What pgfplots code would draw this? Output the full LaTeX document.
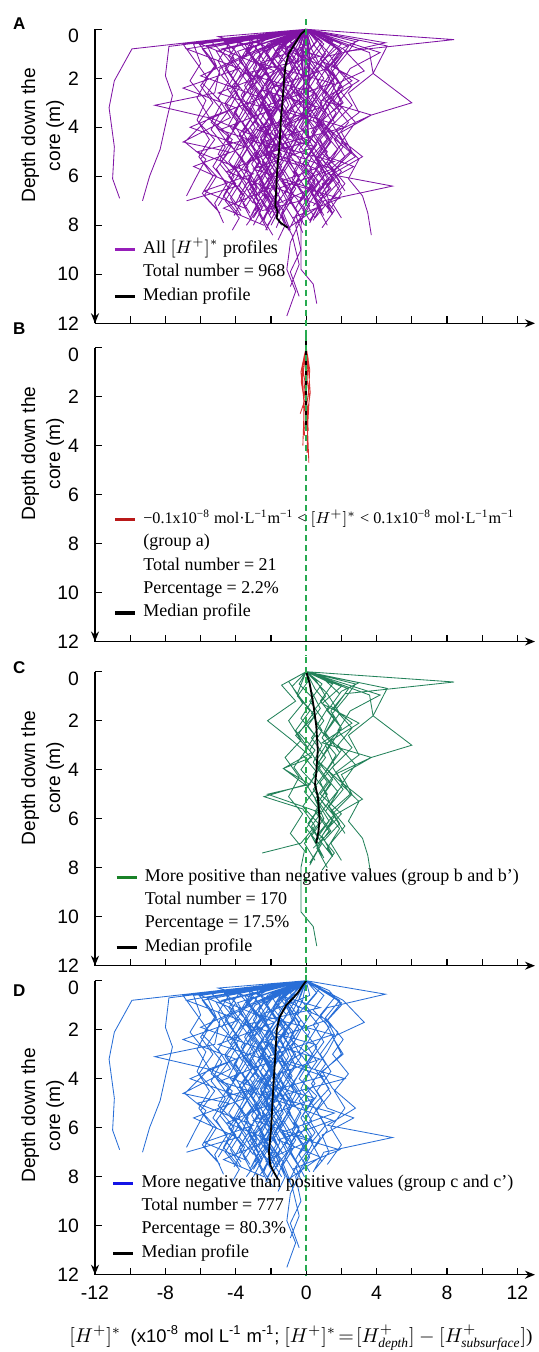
\documentclass[border=0pt]{standalone}
\usepackage{pgfplots}
\pgfplotsset{compat=1.18}
\usepackage{pgfplotstable}
\usetikzlibrary{arrows.meta}
\usepackage{fontspec}
\setmainfont{Liberation Serif}
\setsansfont{Liberation Sans}

\definecolor{cpurple}{RGB}{128,20,165}
\definecolor{cpurpleL}{RGB}{150,30,185}
\definecolor{cblue}{RGB}{40,110,215}
\definecolor{cblueL}{RGB}{20,20,230}
\definecolor{cgreen}{RGB}{35,130,90}
\definecolor{cgreenL}{RGB}{25,130,40}
\definecolor{cred}{RGB}{215,45,45}
\definecolor{credL}{RGB}{185,25,25}
\definecolor{cdash}{RGB}{40,170,80}

% group c and c' (more negative than positive)
\pgfplotstableread[row sep=\\]{
x d\\
0 0\\ -3.2 0.6\\ -3.8 1.3\\ -2.9 2.0\\ -3.5 2.7\\ -4.1 3.4\\ -3.3 4.1\\ -2.6 4.9\\ -3.4 5.6\\ -2.8 6.4\\ -3.6 7.1\\ -3.1 7.8\\ nan nan\\
0 0\\ -1.4 0.5\\ -1.9 1.1\\ -1.2 1.8\\ -2.0 2.5\\ -1.5 3.3\\ -0.9 4.0\\ -1.7 4.8\\ -2.3 5.5\\ -1.6 6.3\\ -1.1 7.0\\ -1.8 7.7\\ nan nan\\
0 0\\ -5.6 0.7\\ -5.1 1.5\\ -5.9 2.2\\ -4.8 3.0\\ -5.4 3.8\\ -4.2 4.5\\ -4.9 5.3\\ -4.1 6.0\\ -4.7 6.8\\ -3.9 7.5\\ nan nan\\
0 0\\ -0.6 0.4\\ -1.1 1.0\\ -0.4 1.7\\ -0.9 2.4\\ 0.3 3.1\\ -0.5 3.9\\ -1.2 4.6\\ -0.3 5.4\\ -0.8 6.1\\ 0.1 6.9\\ -0.6 7.6\\ -0.2 8.3\\ nan nan\\
0 0\\ -9.9 0.8\\ -10.9 2.1\\ -11.2 3.2\\ -10.9 4.8\\ -11.0 6.1\\ -10.6 6.9\\ nan nan\\
0 0\\ -7.8 0.7\\ -8.0 1.9\\ -7.6 2.7\\ -7.9 3.6\\ -8.3 4.9\\ -8.9 6.0\\ -9.3 7.0\\ nan nan\\
0 0\\ -2.5 0.8\\ -4.9 1.6\\ -5.2 2.6\\ -8.6 3.1\\ -5.6 3.6\\ -4.4 4.3\\ -5.0 5.1\\ -3.8 5.9\\ -4.5 6.6\\ -3.7 7.4\\ nan nan\\
0 0\\ 4.5 0.55\\ 1.2 1.1\\ 0.4 1.8\\ 1.0 2.5\\ 0.2 3.3\\ -0.4 4.0\\ 0.6 4.7\\ -0.2 5.5\\ 0.5 6.2\\ -0.3 7.0\\ nan nan\\
0 0\\ -2.2 0.6\\ -2.7 1.2\\ -2.1 1.9\\ -2.6 2.6\\ -1.9 3.4\\ -2.5 4.1\\ -3.0 4.8\\ -2.2 5.6\\ -2.7 6.3\\ -2.0 7.1\\ -2.4 7.8\\ -1.9 8.4\\ nan nan\\
0 0\\ -3.9 0.9\\ -3.3 1.6\\ -4.2 2.3\\ -3.6 3.0\\ -2.8 3.7\\ -3.7 4.4\\ -3.1 5.2\\ -3.9 5.9\\ -3.2 6.7\\ -2.6 7.4\\ nan nan\\
0 0\\ -1.0 0.7\\ -1.6 1.4\\ -0.7 2.1\\ -1.3 2.9\\ -2.0 3.6\\ -1.4 4.4\\ -0.8 5.1\\ -1.5 5.9\\ -2.1 6.6\\ -1.3 7.4\\ -1.7 8.1\\ nan nan\\
0 0\\ 1.9 0.8\\ 1.1 1.5\\ 1.6 2.2\\ 0.8 3.0\\ 1.4 3.7\\ 0.6 4.5\\ 1.2 5.2\\ 2.7 5.6\\ 0.9 6.3\\ 1.3 7.0\\ 0.5 7.7\\ nan nan\\
0 0\\ -6.4 0.6\\ -6.0 1.4\\ -6.6 2.1\\ -5.7 2.9\\ -6.2 3.7\\ -5.5 4.5\\ -6.1 5.2\\ -5.3 6.0\\ -5.9 6.7\\ -5.0 7.4\\ nan nan\\
0 0\\ -4.6 0.5\\ -4.1 1.2\\ -4.8 1.9\\ -3.9 2.6\\ -4.4 3.3\\ -5.1 4.0\\ -4.3 4.8\\ -4.9 5.5\\ -4.0 6.3\\ -4.6 7.0\\ -3.8 7.7\\ -4.2 8.2\\ nan nan\\
0 0\\ -2.9 0.7\\ -2.3 1.4\\ -3.1 2.1\\ -2.4 2.8\\ -3.0 3.6\\ -2.2 4.3\\ -2.9 5.1\\ -2.3 5.8\\ -3.2 6.5\\ -2.5 7.3\\ -3.0 8.0\\ nan nan\\
0 0\\ -0.3 0.6\\ -0.8 1.3\\ -0.2 2.0\\ 0.6 2.7\\ -0.1 3.5\\ 0.5 4.2\\ -0.4 4.9\\ 0.3 5.7\\ -0.5 6.4\\ 0.2 7.2\\ -0.4 7.9\\ -0.9 8.7\\ -1.1 9.8\\ -0.6 10.7\\ -1.1 11.7\\ nan nan\\
0 0\\ -1.8 0.5\\ -2.3 1.0\\ -1.6 1.7\\ -2.2 2.4\\ -1.7 3.1\\ -2.4 3.9\\ -1.8 4.6\\ -1.3 5.4\\ -2.0 6.1\\ -1.5 6.9\\ -2.1 7.6\\ nan nan\\
0 0\\ -3.5 0.6\\ -2.9 1.3\\ -2.1 2.0\\ -2.8 2.7\\ -2.2 3.5\\ -1.6 4.2\\ -2.3 5.0\\ -1.7 5.7\\ -2.5 6.5\\ -1.9 7.2\\ -2.6 7.9\\ nan nan\\
0 0\\ 2.1 0.8\\ 3.3 1.7\\ 1.5 2.3\\ 2.1 3.0\\ 0.9 3.7\\ 1.5 4.4\\ 2.8 5.2\\ 1.2 5.9\\ 4.9 6.4\\ 1.0 7.0\\ 0.4 7.8\\ nan nan\\
0 0\\ -5.1 0.9\\ -4.5 1.6\\ -3.8 2.4\\ -4.6 3.1\\ -3.9 3.8\\ -4.5 4.6\\ -3.6 5.3\\ -4.3 6.1\\ -3.5 6.8\\ -4.1 7.6\\ nan nan\\
0 0\\ -1.2 0.9\\ -0.8 1.6\\ -1.5 2.3\\ -1.0 3.1\\ -1.6 3.8\\ -1.1 4.5\\ -1.8 5.3\\ -1.2 6.0\\ -0.7 6.8\\ -1.3 7.5\\ -0.9 8.2\\ nan nan\\
0 0\\ -0.9 0.5\\ -0.4 1.2\\ -1.1 1.9\\ -1.7 2.6\\ -1.0 3.4\\ -1.5 4.1\\ -2.0 4.9\\ -1.4 5.6\\ -1.9 6.4\\ -1.3 7.1\\ nan nan\\
0 0\\ -2.6 0.4\\ -3.1 1.1\\ -3.7 1.8\\ -3.0 2.5\\ -3.6 3.2\\ -2.9 4.0\\ -3.5 4.7\\ -2.8 5.5\\ -3.3 6.2\\ -2.7 7.0\\ -3.2 7.7\\ nan nan\\
0 0\\ -7.0 0.6\\ -6.3 1.3\\ -5.6 2.0\\ -6.2 2.8\\ -5.5 3.6\\ -6.9 4.6\\ -5.7 5.3\\ -6.3 6.1\\ -6.8 6.8\\ nan nan\\
0 0\\ 1.0 0.6\\ 0.4 1.2\\ 1.3 1.9\\ 0.5 2.7\\ 1.1 3.4\\ 0.3 4.2\\ 0.9 4.9\\ 0.2 5.7\\ 0.8 6.4\\ 0.1 7.2\\ -0.6 8.0\\ -0.3 9.0\\ -0.9 9.9\\ -0.4 10.9\\ nan nan\\
0 0\\ -4.2 0.7\\ -3.6 1.4\\ -3.0 2.2\\ -3.7 2.9\\ -3.1 3.6\\ -3.8 4.3\\ -3.2 5.1\\ -2.5 5.8\\ -3.3 6.6\\ -2.7 7.3\\ -3.4 8.0\\ nan nan\\
0 0\\ -1.6 0.8\\ -2.1 1.5\\ -2.7 2.2\\ -2.0 3.0\\ -2.6 3.7\\ -2.0 4.5\\ -2.6 5.2\\ -1.9 6.0\\ -2.4 6.7\\ -1.8 7.5\\ -2.3 8.2\\ nan nan\\
0 0\\ -0.4 0.7\\ 0.3 1.3\\ -0.3 2.0\\ -0.9 2.8\\ -0.2 3.5\\ -0.8 4.3\\ -0.1 5.0\\ -0.7 5.8\\ 0.0 6.5\\ -0.6 7.3\\ -0.1 8.0\\ nan nan\\
0 0\\ -3.0 0.5\\ -3.6 1.2\\ -4.3 1.9\\ -3.5 2.6\\ -4.0 3.4\\ -3.4 4.1\\ -4.1 4.9\\ -3.3 5.6\\ -3.8 6.4\\ -3.0 7.1\\ nan nan\\
0 0\\ -2.0 0.6\\ -1.4 1.3\\ -2.1 2.0\\ -1.5 2.8\\ -2.2 3.5\\ -1.7 4.3\\ -2.4 5.0\\ -1.8 5.8\\ -2.3 6.5\\ -1.6 7.3\\ -2.2 8.0\\ nan nan\\
0 0\\ 1.6 0.7\\ 0.8 1.4\\ 1.8 2.1\\ 1.2 2.9\\ 0.5 3.6\\ 1.3 4.4\\ 0.4 5.1\\ 1.1 5.9\\ 0.3 6.6\\ 0.9 7.4\\ nan nan\\
0 0\\ -5.9 0.8\\ -5.2 1.5\\ -6.0 2.3\\ -5.3 3.0\\ -6.1 3.8\\ -5.2 4.5\\ -6.0 5.3\\ -5.1 6.0\\ -5.8 6.8\\ -4.9 7.5\\ nan nan\\
0 0\\ -1.1 0.4\\ -1.7 0.9\\ -2.4 1.6\\ -1.8 2.3\\ -2.5 3.0\\ -1.9 3.8\\ -2.6 4.5\\ -2.0 5.3\\ -2.7 6.0\\ -2.1 6.8\\ -2.7 7.5\\ -2.2 8.2\\ nan nan\\
0 0\\ -0.2 0.8\\ -0.7 1.5\\ -1.3 2.3\\ -0.6 3.0\\ -1.2 3.8\\ -0.5 4.5\\ -1.1 5.3\\ -0.4 6.0\\ -1.0 6.8\\ -0.5 7.5\\ -1.0 8.2\\ nan nan\\
0 0\\ -4.4 0.6\\ -5.0 1.3\\ -4.4 2.1\\ -5.0 2.8\\ -4.3 3.6\\ -7.0 4.6\\ -4.4 5.0\\ -5.1 5.7\\ -4.4 6.5\\ -5.0 7.2\\ nan nan\\
0 0\\ 0.6 0.5\\ -0.1 1.1\\ 0.7 1.8\\ 0.0 2.6\\ 0.6 3.3\\ -0.2 4.1\\ 0.4 4.8\\ -0.3 5.6\\ 0.3 6.3\\ -0.4 7.1\\ 0.2 7.8\\ nan nan\\
0 0\\ -3.4 0.8\\ -2.8 1.5\\ -3.5 2.3\\ -2.9 3.0\\ -3.6 3.8\\ -3.0 4.5\\ -3.7 5.3\\ -3.1 6.0\\ -3.8 6.8\\ -3.2 7.5\\ nan nan\\
0 0\\ -2.4 0.9\\ -3.0 1.6\\ -2.4 2.4\\ -3.1 3.1\\ -2.5 3.9\\ -3.2 4.6\\ -2.6 5.4\\ -3.3 6.1\\ -2.6 6.9\\ -3.1 7.6\\ nan nan\\
0 0\\ -1.3 0.6\\ -1.9 1.3\\ -1.2 2.0\\ -1.8 2.7\\ -1.2 3.5\\ -1.8 4.2\\ -1.1 5.0\\ -1.7 5.7\\ -1.1 6.5\\ -1.7 7.2\\ -1.2 8.0\\ -1.6 8.6\\ nan nan\\
0 0\\ 2.0 0.9\\ 1.2 1.6\\ 2.1 2.4\\ 1.5 3.0\\ 2.4 3.8\\ 1.6 4.5\\ 2.2 5.2\\ 1.4 6.0\\ 2.0 6.7\\ 1.2 7.5\\ nan nan\\
0 0\\ -6.2 0.5\\ -5.5 1.1\\ -4.9 1.8\\ -5.6 2.6\\ -4.8 3.3\\ -5.4 4.1\\ -4.6 4.8\\ -5.3 5.6\\ -4.5 6.3\\ -5.2 7.1\\ -4.7 7.9\\ nan nan\\
0 0\\ -3.8 0.5\\ -4.4 1.1\\ -3.7 1.8\\ -4.3 2.6\\ -3.6 3.3\\ -4.2 4.1\\ -3.5 4.8\\ -4.1 5.6\\ -3.4 6.3\\ -4.0 7.1\\ nan nan\\
0 0\\ -0.7 0.9\\ -1.3 1.6\\ -0.6 2.4\\ -1.4 3.1\\ -0.8 3.9\\ -1.5 4.6\\ -0.9 5.4\\ -1.5 6.1\\ -0.8 6.9\\ -1.4 7.6\\ -0.8 8.4\\ -0.4 9.6\\ -0.9 10.5\\ nan nan\\
0 0\\ -2.8 0.4\\ -2.2 1.0\\ -1.6 1.7\\ -2.3 2.4\\ -1.7 3.2\\ -2.4 3.9\\ -1.8 4.7\\ -2.5 5.4\\ -1.9 6.2\\ -2.6 6.9\\ -2.0 7.7\\ nan nan\\
0 0\\ 1.3 0.4\\ 2.0 1.0\\ 1.1 1.7\\ 2.0 3.0\\ 0.8 3.8\\ 1.4 4.6\\ 0.6 5.3\\ 1.2 6.1\\ 0.5 6.8\\ nan nan\\
0 0\\ -3.0 0.9\\ -6.0 1.9\\ -2.5 2.8\\ -5.5 3.6\\ -2.8 4.4\\ -6.2 5.0\\ -3.0 5.9\\ -5.8 6.6\\ -3.5 7.3\\ nan nan\\
0 0\\ -1.5 0.7\\ 1.2 1.6\\ -2.4 2.5\\ 0.8 3.2\\ -2.8 4.1\\ 0.5 4.8\\ -3.0 5.7\\ 0.3 6.5\\ -2.2 7.3\\ nan nan\\
0 0\\ -4.8 0.8\\ -1.8 1.7\\ -5.0 2.6\\ -2.0 3.3\\ -4.9 4.1\\ -1.6 4.9\\ -4.5 5.8\\ -2.1 6.5\\ -4.7 7.3\\ -2.4 8.0\\ nan nan\\
0 0\\ -2.0 0.5\\ 0.8 1.1\\ -3.5 1.8\\ 0.5 2.6\\ -1.0 3.3\\ 2.2 4.0\\ -2.0 4.8\\ 1.5 5.7\\ -1.6 6.5\\ 0.8 7.2\\ -1.0 8.1\\ nan nan\\
0 0\\ -6.8 0.8\\ -3.8 1.6\\ -7.0 2.4\\ -4.0 3.2\\ -6.6 4.0\\ -3.5 4.8\\ -6.4 5.6\\ -3.9 6.4\\ -6.8 7.0\\ nan nan\\
0 0\\ 0.2 0.6\\ -2.6 1.4\\ 1.5 2.2\\ -2.2 3.1\\ 1.0 3.9\\ -2.5 4.6\\ 1.6 5.4\\ -1.4 6.2\\ 1.9 6.9\\ -0.8 7.7\\ nan nan\\
0 0\\ -2.0 0.3\\ -3.4 0.9\\ -2.6 1.5\\ -3.2 2.2\\ -2.5 2.9\\ -1.9 3.7\\ -2.6 4.4\\ -2.0 5.2\\ -2.8 5.9\\ -2.2 6.7\\ -2.9 7.4\\ nan nan\\
0 0\\ -1.2 0.3\\ -2.5 0.8\\ -1.9 1.4\\ -1.2 2.1\\ -1.9 2.9\\ -1.3 3.6\\ -2.1 4.3\\ -1.4 5.1\\ -2.1 5.8\\ -1.5 6.6\\ -2.0 7.3\\ -1.4 8.0\\ nan nan\\
0 0\\ -4.0 0.4\\ -3.2 1.0\\ -2.4 1.6\\ -3.0 2.3\\ -2.3 3.0\\ -2.9 3.8\\ -2.1 4.5\\ -2.8 5.3\\ -2.1 6.0\\ -2.7 6.8\\ -2.0 7.5\\ nan nan\\
0 0\\ -0.8 0.3\\ -1.5 0.7\\ -0.9 1.3\\ -0.4 2.0\\ -1.1 2.7\\ -0.6 3.5\\ -1.3 4.2\\ -0.7 5.0\\ -1.3 5.7\\ -0.6 6.5\\ -1.2 7.2\\ -0.6 7.9\\ nan nan\\
0 0\\ -5.4 0.5\\ -4.7 1.0\\ -3.9 1.7\\ -4.5 2.4\\ -3.8 3.1\\ -4.4 3.9\\ -3.7 4.6\\ -4.4 5.4\\ -3.6 6.1\\ -4.3 6.9\\ -3.7 7.6\\ nan nan\\
0 0\\ -2.3 0.9\\ -1.7 1.6\\ -2.3 2.3\\ -1.6 3.1\\ -2.3 3.8\\ -1.6 4.6\\ -2.2 5.3\\ -1.5 6.1\\ -2.2 6.8\\ -1.6 7.6\\ nan nan\\
0 0\\ -3.3 0.4\\ -2.6 1.0\\ -3.3 1.7\\ -2.5 2.4\\ -3.2 3.2\\ -2.4 3.9\\ -3.1 4.7\\ -2.4 5.4\\ -3.0 6.2\\ -2.3 6.9\\ -3.0 7.7\\ nan nan\\
0 0\\ -0.5 0.5\\ -1.2 0.8\\ -0.6 1.5\\ -1.3 2.2\\ -0.7 3.0\\ -1.4 3.7\\ -0.7 4.5\\ -1.3 5.2\\ -0.6 6.0\\ -1.2 6.7\\ -0.5 7.5\\ nan nan\\
0 0\\ -1.7 0.9\\ -1.1 1.4\\ -1.8 2.1\\ -1.2 2.8\\ -1.9 3.6\\ -1.3 4.3\\ -2.0 5.1\\ -1.4 5.8\\ -2.1 6.6\\ -1.5 7.3\\ -2.0 8.0\\ nan nan\\
0 0\\ -4.8 0.4\\ -4.0 0.9\\ -4.6 1.6\\ -3.9 2.3\\ -4.6 3.0\\ -3.8 3.8\\ -4.5 4.5\\ -3.7 5.3\\ -4.4 6.0\\ -3.6 6.8\\ nan nan\\
0 0\\ -2.7 0.5\\ -2.1 1.1\\ -2.8 1.8\\ -2.1 2.5\\ -2.7 3.3\\ -2.0 4.0\\ -2.7 4.8\\ -2.0 5.5\\ -2.6 6.3\\ -1.9 7.0\\ -2.5 7.8\\ nan nan\\
0 0\\ -3.6 0.3\\ -2.0 0.8\\ -2.6 1.4\\ -1.9 2.2\\ -2.5 2.9\\ -1.8 3.7\\ -2.4 4.4\\ -1.8 5.2\\ -2.4 5.9\\ -1.7 6.7\\ -2.3 7.4\\ nan nan\\
0 0\\ -1.0 0.5\\ -1.8 1.2\\ -2.5 1.9\\ -3.2 2.5\\ -2.5 3.3\\ -3.2 4.0\\ -2.5 4.8\\ -3.1 5.5\\ -2.4 6.3\\ -3.0 7.0\\ -2.4 7.8\\ nan nan\\
0 0\\ -6.0 0.6\\ -4.3 1.1\\ -3.5 1.8\\ -4.1 2.5\\ -3.4 3.3\\ -4.0 4.0\\ -3.3 4.8\\ -3.9 5.5\\ -3.2 6.3\\ -3.8 7.0\\ nan nan\\
0 0\\ -0.4 0.4\\ -0.9 0.9\\ -1.6 1.5\\ -1.0 2.2\\ -1.6 3.0\\ -0.9 3.7\\ -1.5 4.5\\ -0.9 5.2\\ -1.5 6.0\\ -0.8 6.7\\ -1.4 7.5\\ -1.0 8.2\\ nan nan\\
0 0\\ -2.9 1.0\\ -3.5 1.7\\ -2.8 2.4\\ -3.4 3.2\\ -2.7 3.9\\ -3.4 4.7\\ -2.7 5.4\\ -3.3 6.2\\ -2.6 6.9\\ -3.2 7.7\\ nan nan\\
0 0\\ -1.5 0.4\\ -0.9 1.0\\ -0.3 1.6\\ -0.9 2.3\\ -0.3 3.1\\ -1.0 3.8\\ -0.3 4.6\\ -1.0 5.3\\ -0.4 6.1\\ -1.0 6.8\\ -0.4 7.6\\ nan nan\\
0 0\\ -5.0 0.3\\ -3.0 0.7\\ -3.7 1.3\\ -3.1 2.0\\ -3.7 2.7\\ -3.0 3.5\\ -3.6 4.2\\ -2.9 5.0\\ -3.5 5.7\\ -2.8 6.5\\ -3.4 7.2\\ nan nan\\
0 0\\ 0.8 0.3\\ 0.2 0.8\\ -0.5 1.4\\ 0.2 2.1\\ -0.4 2.9\\ 0.3 3.6\\ -0.3 4.4\\ 0.4 5.1\\ -0.2 5.9\\ 0.4 6.6\\ -0.2 7.4\\ nan nan\\
}\tabD

% group b and b' (more positive than negative)
\pgfplotstableread[row sep=\\]{
x d\\
0 0\\ 8.4 0.42\\ 2.2 0.9\\ 1.4 1.6\\ 2.0 2.3\\ 1.1 3.0\\ 1.6 3.8\\ 0.8 4.5\\ 1.3 5.3\\ 0.6 6.0\\ nan nan\\
0 0\\ 4.6 0.68\\ 3.8 1.8\\ 6.0 3.0\\ 3.7 3.5\\ 2.0 4.2\\ 2.6 5.0\\ 1.5 5.8\\ 2.2 6.6\\ nan nan\\
0 0\\ 4.2 0.95\\ 2.5 1.6\\ 1.8 2.4\\ 2.6 3.1\\ 1.5 3.9\\ 2.1 4.6\\ 1.2 5.4\\ 1.9 6.2\\ 1.0 6.9\\ nan nan\\
0 0\\ 3.6 0.95\\ 3.8 1.8\\ 2.4 2.6\\ 3.0 3.4\\ 1.7 4.1\\ 2.5 5.0\\ 1.4 5.7\\ nan nan\\
0 0\\ -1.4 0.55\\ -0.6 1.2\\ -2.2 2.0\\ -0.8 2.8\\ 0.3 3.5\\ -1.3 3.95\\ 0.2 4.6\\ -2.2 5.0\\ 0.6 5.7\\ 1.4 6.5\\ 0.4 7.2\\ nan nan\\
0 0\\ 0.6 0.4\\ 1.1 1.0\\ 0.3 1.7\\ 0.9 2.4\\ 0.2 3.2\\ 0.8 3.9\\ 0.1 4.7\\ 0.7 5.4\\ 1.3 6.1\\ 0.5 6.9\\ 1.0 7.6\\ nan nan\\
0 0\\ 1.5 0.5\\ 0.8 1.2\\ 1.6 1.9\\ 0.9 2.7\\ 1.7 3.4\\ 1.0 4.2\\ 1.8 4.9\\ 1.1 5.7\\ 1.9 6.4\\ 1.2 7.2\\ 1.5 7.55\\ nan nan\\
0 0\\ 2.4 0.7\\ 1.6 1.5\\ 2.6 2.3\\ 1.8 3.0\\ 2.8 3.8\\ 2.0 4.6\\ 3.0 5.3\\ 2.4 6.1\\ 3.2 6.8\\ 3.5 7.5\\ 3.7 8.4\\ nan nan\\
0 0\\ -0.8 0.6\\ -0.2 1.3\\ -1.0 2.0\\ -0.3 2.8\\ -1.2 3.5\\ -0.4 4.3\\ -1.0 5.1\\ -0.2 5.8\\ -0.9 6.6\\ -0.1 7.3\\ -0.3 8.0\\ -0.3 9.8\\ 0.4 10.4\\ 0.6 11.2\\ nan nan\\
0 0\\ 0.3 0.8\\ 0.8 1.5\\ 0.1 2.2\\ 0.9 3.0\\ 0.4 3.7\\ 1.2 4.5\\ 0.5 5.2\\ 1.0 6.0\\ 0.3 6.7\\ 0.9 7.5\\ nan nan\\
0 0\\ 1.0 0.3\\ 1.9 0.9\\ 1.2 1.6\\ 2.0 2.3\\ 1.3 3.1\\ 0.6 3.8\\ 1.4 4.6\\ 0.7 5.3\\ 1.5 6.1\\ 0.8 6.8\\ nan nan\\
0 0\\ -0.4 0.5\\ 0.4 1.1\\ -0.3 1.9\\ 0.5 2.6\\ -0.2 3.4\\ 0.6 4.1\\ -0.1 4.9\\ 0.7 5.6\\ 0.0 6.4\\ 0.8 7.1\\ 0.2 7.9\\ nan nan\\
0 0\\ 2.0 0.6\\ 0.9 1.3\\ 3.0 2.1\\ 1.2 2.9\\ 0.6 3.6\\ 1.8 4.4\\ 3.2 5.2\\ 1.5 5.9\\ 0.7 6.6\\ 1.6 7.4\\ 0.9 8.1\\ nan nan\\
0 0\\ -0.5 0.9\\ 0.2 1.6\\ -0.6 2.4\\ 0.1 3.1\\ -0.7 3.9\\ 0.0 4.6\\ -2.4 5.1\\ -0.2 5.6\\ 0.5 6.3\\ -0.3 7.0\\ -2.5 7.4\\ nan nan\\
0 0\\ 1.2 0.9\\ 1.9 1.7\\ 1.1 2.5\\ 1.9 3.3\\ 1.2 4.0\\ 2.1 4.8\\ 1.3 5.5\\ 2.2 6.3\\ 1.4 7.0\\ 2.0 7.7\\ nan nan\\
0 0\\ 0.9 0.5\\ 0.2 1.2\\ 1.0 2.0\\ 0.3 2.7\\ 1.1 3.5\\ 0.4 4.2\\ 1.2 5.0\\ 0.5 5.7\\ 1.3 6.5\\ 0.6 7.2\\ 1.2 8.0\\ nan nan\\
0 0\\ 3.0 0.45\\ 2.0 0.8\\ 1.4 1.4\\ 2.6 2.1\\ 0.9 2.9\\ 3.7 3.5\\ 1.6 4.2\\ 0.8 5.0\\ 2.0 5.8\\ 1.1 6.5\\ nan nan\\
0 0\\ 0.1 0.4\\ -0.5 1.0\\ 0.4 1.7\\ -0.4 2.5\\ 0.5 3.2\\ -0.3 4.0\\ 0.6 4.7\\ -0.2 5.5\\ 0.7 6.2\\ -0.1 7.0\\ 0.5 7.7\\ nan nan\\
0 0\\ 0.5 0.7\\ 1.3 1.4\\ 0.6 2.2\\ 1.4 2.9\\ 0.7 3.7\\ 1.5 4.4\\ 0.8 5.2\\ 1.6 5.9\\ 0.9 6.7\\ 1.5 7.5\\ nan nan\\
0 0\\ 2.8 0.5\\ 2.3 1.0\\ 1.5 1.7\\ 1.0 2.5\\ 2.0 3.2\\ 1.2 4.0\\ 0.4 4.8\\ 1.1 5.5\\ 0.3 6.3\\ 0.9 7.0\\ 0.2 7.8\\ nan nan\\
0 0\\ -1.0 0.4\\ -0.3 1.1\\ 0.5 1.8\\ -0.6 2.6\\ 0.3 3.3\\ -1.3 3.95\\ 0.1 4.7\\ 0.8 5.5\\ 0.1 6.2\\ 0.9 7.0\\ 1.5 7.55\\ nan nan\\
}\tabC

% group a (near zero)
\pgfplotstableread[row sep=\\]{
x d\\
0 0\\ -0.15 0.5\\ -0.28 1.4\\ -0.1 2.2\\ -0.34 2.7\\ nan nan\\
0 0\\ 0.1 0.6\\ 0.23 1.85\\ 0.05 2.8\\ 0.15 4.7\\ nan nan\\
0 0\\ -0.05 0.4\\ -0.2 1.2\\ -0.12 2.5\\ -0.19 4.0\\ nan nan\\
0 0\\ 0.05 0.7\\ -0.1 1.6\\ 0.08 2.5\\ -0.05 3.3\\ nan nan\\
0 0\\ -0.2 0.8\\ -0.05 1.5\\ -0.15 2.3\\ -0.1 3.6\\ nan nan\\
0 0\\ 0.12 0.5\\ 0.05 1.3\\ 0.18 2.0\\ 0.1 3.0\\ 0.05 4.3\\ nan nan\\
0 0\\ -0.1 0.3\\ -0.3 1.0\\ -0.18 1.8\\ -0.08 2.6\\ nan nan\\
0 0\\ 0.2 0.9\\ 0.15 1.7\\ 0.02 2.4\\ 0.12 3.4\\ nan nan\\
}\tabB

\pgfplotsset{
  panel/.style={
    scale only axis, width=220pt, height=147pt,
    xmin=-12, xmax=13, ymin=0, ymax=12, y dir=reverse,
    axis x line=bottom, axis y line=left, clip=false,
    xtick={-12,-8,...,12}, minor xtick={-10,-6,...,10},
    ytick={2,4,...,12}, extra y ticks={0},
    extra y tick style={yticklabel style={yshift=-3.5pt}},
    tick align=inside, major tick length=3.5pt, minor tick length=3.5pt,
    tick style={black, line width=0.6pt},
    axis line style={black, line width=0.7pt, -{Stealth[length=5pt,width=4pt]}},
    /pgf/number format/assume math mode=true,
    ticklabel style={font=\sffamily\fontsize{9.7}{11}\selectfont},
    yticklabel style={xshift=-4.5pt},
    xticklabel style={yshift=-2pt},
    legend image code/.code={\draw[##1] (0pt,0pt) -- (10pt,0pt);},
    legend cell align=left,
    legend style={draw=none, fill=none, inner sep=0pt, outer sep=0pt,
      row sep=2.9pt, column sep=3.3pt,
      font=\fontsize{9}{10.8}\selectfont,
      nodes={inner sep=0pt, text height=6.3pt, text depth=2.5pt}},
  },
  prof/.style={line width=0.42pt, unbounded coords=jump, forget plot},
  med/.style={black, line width=0.9pt, forget plot},
  dashz/.style={cdash, line width=1pt, dash pattern=on 3pt off 2pt, forget plot},
}
\tikzset{
  letter/.style={font=\sffamily\bfseries\fontsize{8.5}{10}\selectfont},
  ylab/.style={rotate=90, align=center, font=\sffamily\fontsize{9.6}{12.5}\selectfont},
}

\begin{document}
\begin{tikzpicture}
\useasboundingbox (-47.5pt,14.65pt) rectangle (221.5pt,-661.35pt);

% ---------- A ----------
\begin{axis}[panel, at={(0pt,0pt)}, anchor=north west, xticklabels={},
  legend style={at={(axis cs:-10.96,8.64)}, anchor=north west}]
  \addplot[cpurple, prof] table[x=x,y=d]{\tabD};
  \addplot[cpurple, prof] table[x=x,y=d]{\tabC};
  \addplot[cpurple, prof] table[x=x,y=d]{\tabB};
  \addplot[med] coordinates {(0,0)(-0.3,0.2)(-0.57,0.5)(-1.0,1.0)(-1.18,1.5)(-1.25,2)(-1.3,2.5)(-1.35,3)(-1.42,3.5)(-1.46,4)(-1.5,4.5)(-1.55,5)(-1.62,5.5)(-1.67,6)(-1.7,6.5)(-1.74,7)(-1.76,7.2)(-1.62,7.45)(-1.68,7.7)(-1.45,7.9)(-1.05,8.1)};
  \addplot[dashz] coordinates {(0,-0.4)(0,12.5)};
  \addlegendimage{cpurpleL, line width=1.6pt}
  \addlegendentry{All $[H^{+}]^{*}$ profiles}
  \addlegendimage{empty legend}
  \addlegendentry{Total number = 968}
  \addlegendimage{black, line width=1.6pt}
  \addlegendentry{Median profile}
  \node[letter] at (axis cs:-16.3,-0.22) {A};
  \node[ylab] at (axis cs:-14.98,4.33) {Depth down the\\core (m)};
\end{axis}

% ---------- B ----------
\begin{axis}[panel, at={(0pt,-159.1pt)}, anchor=north west, xticklabels={},
  legend style={at={(axis cs:-10.95,6.66)}, anchor=north west}]
  \addplot[cred, prof] table[x=x,y=d]{\tabB};
  \addplot[med] coordinates {(0,-0.3)(0,3.3)};
  \addplot[dashz] coordinates {(0,-0.5)(0,12.6)};
  \addlegendimage{credL, line width=1.6pt}
  \addlegendentry{{\fontsize{8.1}{10}\selectfont −0.1x10\textsuperscript{−8} mol·L\textsuperscript{−1}m\textsuperscript{−1} < $[H^{+}]^{*}$ < 0.1x10\textsuperscript{−8} mol·L\textsuperscript{−1}m\textsuperscript{−1}}}
  \addlegendimage{empty legend}
  \addlegendentry{(group a)}
  \addlegendimage{empty legend}
  \addlegendentry{Total number = 21}
  \addlegendimage{empty legend}
  \addlegendentry{Percentage = 2.2\%}
  \addlegendimage{black, line width=1.6pt}
  \addlegendentry{Median profile}
  \node[letter] at (axis cs:-16.3,-0.75) {B};
  \node[ylab] at (axis cs:-14.98,4.33) {Depth down the\\core (m)};
\end{axis}

% ---------- C ----------
\begin{axis}[panel, at={(0pt,-321.2pt)}, anchor=north west, xticklabels={},
  legend style={at={(axis cs:-10.86,8.03)}, anchor=north west}]
  \addplot[cgreen, prof] table[x=x,y=d]{\tabC};
  \addplot[med] coordinates {(0,0)(0.19,0.45)(0.3,0.9)(0.42,1.4)(0.57,2.2)(0.66,3.2)(0.6,3.8)(0.57,4.15)(0.5,4.6)(0.66,5.1)(0.76,6.0)(0.7,6.5)(0.57,7.0)};
  \addplot[dashz] coordinates {(0,-0.6)(0,12.3)};
  \addlegendimage{cgreenL, line width=1.6pt}
  \addlegendentry{More positive than negative values (group b and b')}
  \addlegendimage{empty legend}
  \addlegendentry{Total number = 170}
  \addlegendimage{empty legend}
  \addlegendentry{Percentage = 17.5\%}
  \addlegendimage{black, line width=1.6pt}
  \addlegendentry{Median profile}
  \node[letter] at (axis cs:-16.3,-0.17) {C};
  \node[ylab] at (axis cs:-14.98,4.33) {Depth down the\\core (m)};
\end{axis}

% ---------- D ----------
\begin{axis}[panel, at={(0pt,-475.7pt)}, anchor=north west,
  legend style={at={(axis cs:-11.05,7.91)}, anchor=north west}]
  \addplot[cblue, prof] table[x=x,y=d]{\tabD};
  \addplot[med] coordinates {(0,0)(-0.25,0.25)(-0.48,0.5)(-0.8,0.75)(-1.14,1.0)(-1.52,1.5)(-1.67,2)(-1.75,3)(-1.84,4)(-1.92,5)(-1.99,6)(-2.12,7)(-2.05,7.5)(-1.85,7.8)(-1.61,8.1)};
  \addplot[dashz] coordinates {(0,-0.25)(0,12)};
  \addlegendimage{cblueL, line width=1.6pt}
  \addlegendentry{More negative than positive values (group c and c')}
  \addlegendimage{empty legend}
  \addlegendentry{Total number = 777}
  \addlegendimage{empty legend}
  \addlegendentry{Percentage = 80.3\%}
  \addlegendimage{black, line width=1.6pt}
  \addlegendentry{Median profile}
  \node[letter] at (axis cs:-16.3,0.4) {D};
  \node[ylab] at (axis cs:-14.98,5.5) {Depth down the\\core (m)};
  \node[font=\fontsize{9.6}{12}\selectfont] at (axis cs:-0.3,14.58)
    {$[H^{+}]^{*}$\ \ {\sffamily\fontsize{9.2}{12}\selectfont(x10\textsuperscript{-8} mol L\textsuperscript{-1} m\textsuperscript{-1};} $[H^{+}]^{*}\!=\![H^{+}_{\mathit{depth}}]-[H^{+}_{\mathit{subsurface}}]$)};
\end{axis}
\end{tikzpicture}
\end{document}
